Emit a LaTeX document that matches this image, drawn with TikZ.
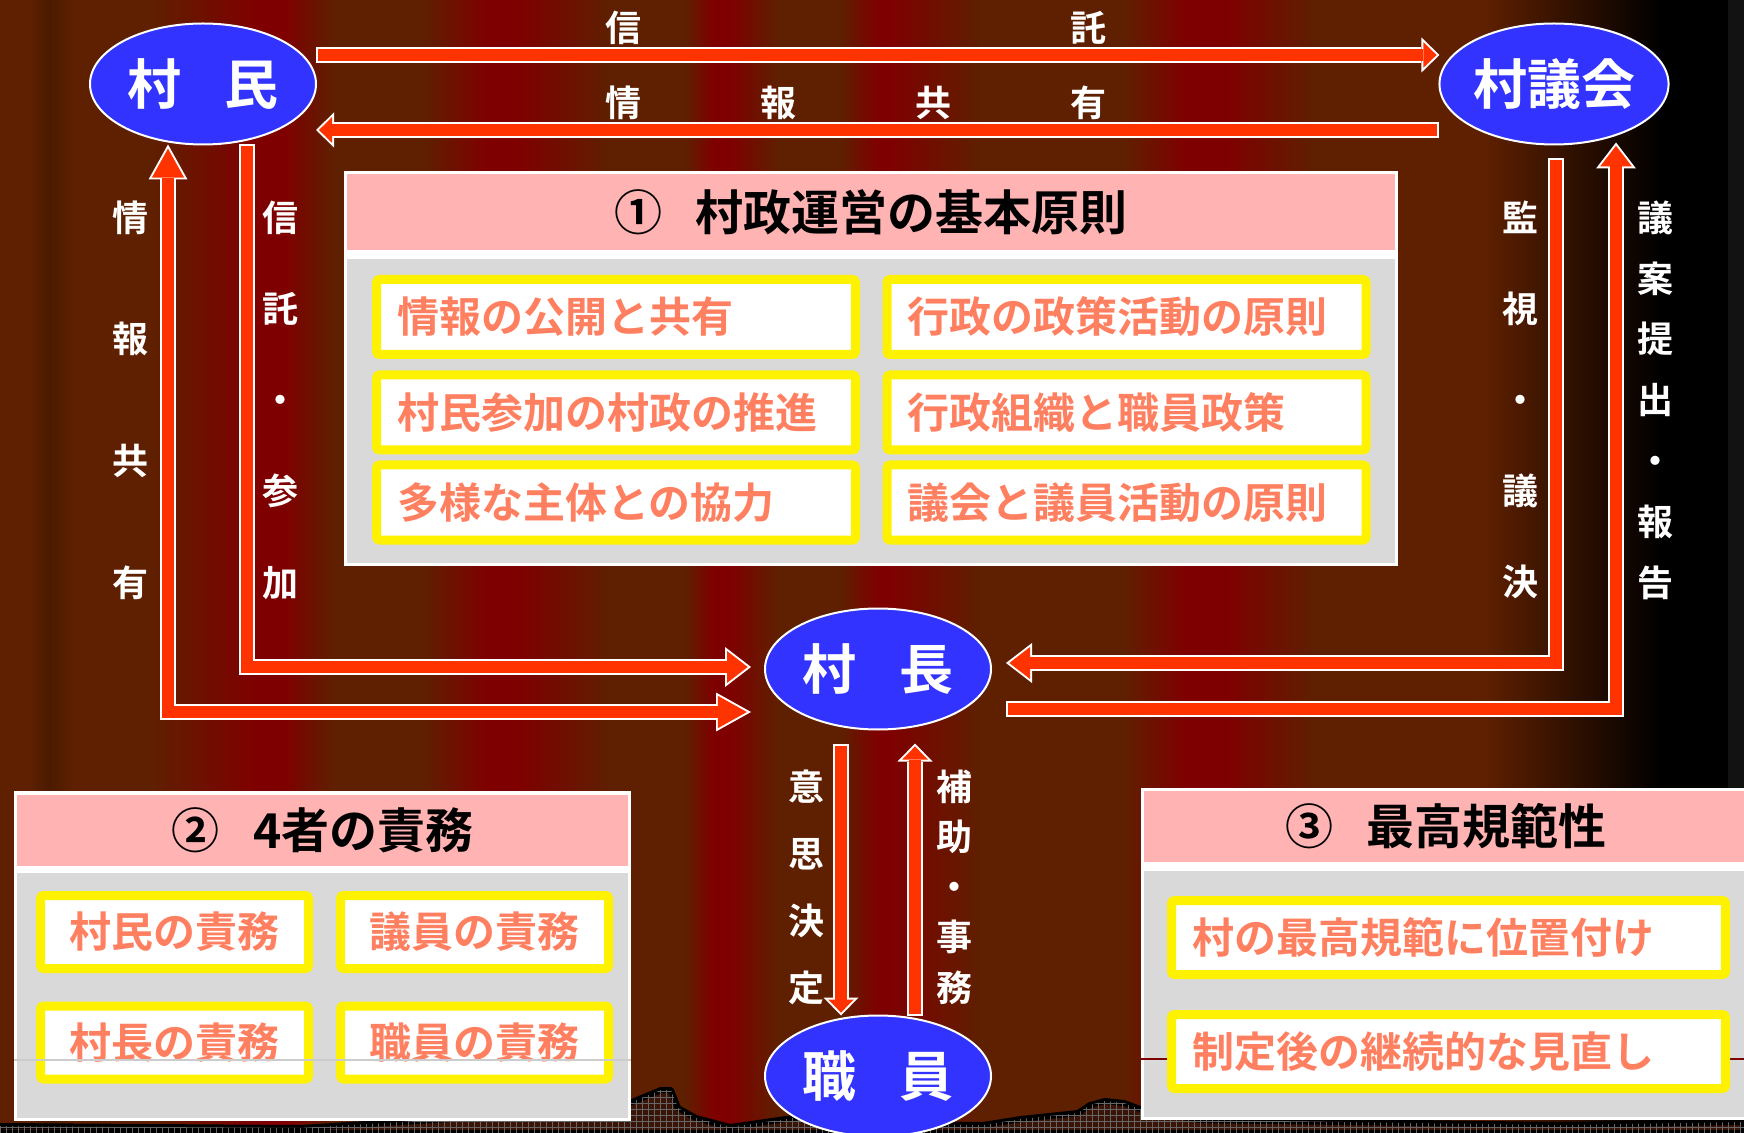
\documentclass[tikz,border=0pt]{standalone}
\usepackage{fontspec}
\setmainfont{Noto Sans CJK JP}[BoldFont={* Bold}]
\usetikzlibrary{shapes.geometric,arrows.meta,patterns}

\definecolor{curtain}{HTML}{5E2000}
\definecolor{curtainred}{HTML}{7F0000}
\definecolor{curtaindark}{HTML}{4A1A00}
\definecolor{arrowred}{HTML}{FF3300}
\definecolor{ellblue}{HTML}{3333FF}
\definecolor{headpink}{HTML}{FFB3B3}
\definecolor{bodygrey}{HTML}{D9D9D9}
\definecolor{itemtext}{HTML}{FF8060}
\definecolor{ridge}{HTML}{3A1406}

\tikzset{
  actor/.style={shape=ellipse, draw=white, line width=1pt, fill=ellblue, text=white, inner sep=0pt, outer sep=0pt, minimum width=113pt, minimum height=60.5pt, font=\fontsize{27}{27}\selectfont\bfseries},
  panel/.style={fill=white, inner sep=0pt, outer sep=0pt},
  panelhead/.style={fill=headpink, inner sep=0pt, outer sep=0pt, font=\fontsize{24}{24}\selectfont\bfseries},
  panelbody/.style={fill=bodygrey, inner sep=0pt, outer sep=0pt},
  item/.style={draw=yellow, line width=4.5pt, fill=white, rounded corners=1.5pt, inner ysep=0pt, inner xsep=0pt, minimum height=37.5pt, text=itemtext, font=\fontsize{21}{21}\selectfont\bfseries},
  itemleft/.style={item, align=left, text width=#1, inner xsep=10.25pt},
  vlabel/.style={text=white, inner sep=0pt, align=center, font=\fontsize{18}{#1}\selectfont\bfseries},
  rim/.style={draw=white, line width=8pt, line join=miter},
  flow/.style={draw=arrowred, line width=6pt, line join=miter},
  shortW/.tip={Triangle[length=9pt,width=17.5pt,line width=0pt]},
  shortR/.tip={Triangle[length=6.55pt,width=12.75pt,line width=0pt]},
  midW/.tip={Triangle[length=13pt,width=20pt,line width=0pt]},
  midR/.tip={Triangle[length=10.36pt,width=15.95pt,line width=0pt]},
  longW/.tip={Triangle[length=17.5pt,width=19.5pt,line width=0pt]},
  longR/.tip={Triangle[length=14.45pt,width=16.1pt,line width=0pt]}
}

\begin{document}
\begin{tikzpicture}[x=0.5pt,y=-0.5pt]
\useasboundingbox (0,0) rectangle (1744,1133);
\clip (0,0) rectangle (1744,1133);

\fill[curtain] (0,0) rectangle (1744,1133);
\shade[left color=curtain,right color=curtaindark] (30,0) rectangle (50,1133);
\shade[left color=curtaindark,right color=curtain] (50,0) rectangle (72,1133);
\shade[left color=curtain,right color=curtainred] (150,0) rectangle (256,1133);
\fill[curtainred] (256,0) rectangle (284,1133);
\shade[left color=curtainred,right color=curtain] (284,0) rectangle (334,1133);
\shade[left color=curtain,right color=curtainred] (423,0) rectangle (487,1133);
\fill[curtainred] (487,0) rectangle (517,1133);
\shade[left color=curtainred,right color=curtain] (517,0) rectangle (612,1133);
\shade[left color=curtain,right color=curtainred] (684,0) rectangle (715,1133);
\fill[curtainred] (715,0) rectangle (729,1133);
\shade[left color=curtainred,right color=curtain] (729,0) rectangle (779,1133);
\shade[left color=curtain,right color=curtainred] (840,0) rectangle (878,1133);
\fill[curtainred] (878,0) rectangle (888,1133);
\shade[left color=curtainred,right color=curtain] (888,0) rectangle (983,1133);
\shade[left color=curtain,right color=curtainred] (1122,0) rectangle (1186,1133);
\fill[curtainred] (1186,0) rectangle (1225,1133);
\shade[left color=curtainred,right color=curtain] (1225,0) rectangle (1317,1133);
\shade[left color=curtain,right color=black] (1484,0) rectangle (1662,1133);
\fill[black] (1662,0) rectangle (1728,1133);
\fill[black!93] (1728,0) rectangle (1744,1133);

\filldraw[fill=ridge, draw=black, line width=3pt, line join=round, postaction={pattern=grid, pattern color=black!60}] (0,1133) -- (0,1126) -- (300,1128) -- (600,1110) -- (632,1102) -- (661,1090) -- (671,1090) -- (678,1108) -- (696,1118) -- (730,1127) -- (765,1122) -- (800,1117) -- (900,1124) -- (983,1125) -- (1021,1119) -- (1078,1113) -- (1090,1105) -- (1105,1101) -- (1124,1103) -- (1143,1110) -- (1200,1120) -- (1560,1125) -- (1744,1122) -- (1744,1133) -- cycle;

\node[panel, minimum width=527pt, minimum height=197.5pt] (panelA) at (871,368.5) {};
\node[panelhead, minimum width=524pt, minimum height=38pt] (headA) at (871,212) {①\hspace{0.7em}村政運営の基本原則};
\node[panelbody, minimum width=524pt, minimum height=152pt] (bodyA) at (871,411) {};
\node[itemleft=219pt] (itemA1) at (616,317) {情報の公開と共有};
\node[itemleft=219pt] (itemA2) at (616,412.5) {村民参加の村政の推進};
\node[itemleft=219pt] (itemA3) at (616,502.5) {多様な主体との協力};
\node[itemleft=219pt] (itemA4) at (1126.5,317) {行政の政策活動の原則};
\node[itemleft=219pt] (itemA5) at (1126.5,412.5) {行政組織と職員政策};
\node[itemleft=219pt] (itemA6) at (1126.5,502.5) {議会と議員活動の原則};

\node[panel, minimum width=308.5pt, minimum height=165pt] (panelB) at (322.5,956) {};
\node[panelhead, minimum width=305.5pt, minimum height=35.5pt] (headB) at (322.5,830) {②\hspace{0.7em}4者の責務};
\node[panelbody, minimum width=305.5pt, minimum height=122.5pt] (bodyB) at (322.5,995.5) {};
\node[item, minimum width=134pt, minimum height=36.5pt] (itemB1) at (174.5,932) {村民の責務};
\node[item, minimum width=134pt, minimum height=36.5pt] (itemB2) at (474.5,932) {議員の責務};
\node[item, minimum width=134pt, minimum height=36.5pt] (itemB3) at (174.5,1042.5) {村長の責務};
\node[item, minimum width=134pt, minimum height=36.5pt] (itemB4) at (474.5,1042.5) {職員の責務};
\draw[black!20, line width=0.6pt] (panelB.west |- 0,1060) -- (panelB.east |- 0,1060);

\node[panel, minimum width=305pt, minimum height=166pt] (panelC) at (1446,954) {};
\node[panelhead, minimum width=302pt, minimum height=35.5pt] (headC) at (1446,826.5) {③\hspace{0.7em}最高規範性};
\node[panelbody, minimum width=302pt, minimum height=123pt] (bodyC) at (1446,994) {};
\draw[curtainred, line width=0.6pt] (panelC.west |- 0,1059) -- (panelC.east |- 0,1059);
\node[itemleft=256.5pt, minimum height=37pt] (itemC1) at (1448.5,937.5) {村の最高規範に位置付け};
\node[itemleft=256.5pt, minimum height=37pt] (itemC2) at (1448.5,1051.5) {制定後の継続的な見直し};

\node[actor] (sonmin) at (203,84) {村\hspace{0.8em}民};
\node[actor] (gikai) at (1554,84) {村議会};
\node[actor] (sonchou) at (878,669) {村\hspace{0.8em}長};
\node[actor] (shokuin) at (878,1076) {職\hspace{0.8em}員};

\draw[rim, -{shortW}] ([yshift=14.5pt]sonmin.east) -- ([yshift=14.5pt]gikai.west);
\draw[flow, -{shortR}, shorten <=1pt, shorten >=1.45pt] ([yshift=14.5pt]sonmin.east) -- ([yshift=14.5pt]gikai.west);
\draw[rim, -{shortW}] ([yshift=-23pt]gikai.west) -- ([yshift=-23pt]sonmin.east);
\draw[flow, -{shortR}, shorten <=1pt, shorten >=1.45pt] ([yshift=-23pt]gikai.west) -- ([yshift=-23pt]sonmin.east);

\draw[rim, {longW}-{longW}] ([xshift=-17.5pt]sonmin.south) |- ([xshift=-7pt,yshift=-21.5pt]sonchou.west);
\draw[flow, {longR}-{longR}, shorten <=2.06pt, shorten >=2.06pt] ([xshift=-17.5pt]sonmin.south) |- ([xshift=-7pt,yshift=-21.5pt]sonchou.west);
\draw[rim, -{midW}] ([xshift=22pt]sonmin.south) |- ([xshift=-7pt,yshift=1pt]sonchou.west);
\draw[flow, -{midR}, shorten <=1pt, shorten >=1.64pt] ([xshift=22pt]sonmin.south) |- ([xshift=-7pt,yshift=1pt]sonchou.west);

\draw[rim, -{midW}] ([xshift=1pt,yshift=-7pt]gikai.south) |- ([xshift=7.5pt,yshift=3pt]sonchou.east);
\draw[flow, -{midR}, shorten <=1pt, shorten >=1.64pt] ([xshift=1pt,yshift=-7pt]gikai.south) |- ([xshift=7.5pt,yshift=3pt]sonchou.east);
\draw[rim, -{midW}] ([xshift=7.5pt,yshift=-20pt]sonchou.east) -| ([xshift=31pt,yshift=1pt]gikai.south);
\draw[flow, -{midR}, shorten <=1pt, shorten >=1.64pt] ([xshift=7.5pt,yshift=-20pt]sonchou.east) -| ([xshift=31pt,yshift=1pt]gikai.south);

\draw[rim, -{shortW}] ([xshift=-18.5pt,yshift=-7pt]sonchou.south) -- ([xshift=-18.5pt]shokuin.north);
\draw[flow, -{shortR}, shorten <=1pt, shorten >=1.45pt] ([xshift=-18.5pt,yshift=-7pt]sonchou.south) -- ([xshift=-18.5pt]shokuin.north);
\draw[rim, -{shortW}] ([xshift=18.5pt]shokuin.north) -- ([xshift=18.5pt,yshift=-7pt]sonchou.south);
\draw[flow, -{shortR}, shorten <=1pt, shorten >=1.45pt] ([xshift=18.5pt]shokuin.north) -- ([xshift=18.5pt,yshift=-7pt]sonchou.south);

\node[vlabel=18] (labTrustTop) at (855.5,28) {信\hspace{214.5pt}託};
\node[vlabel=18] (labInfoTop) at (855.5,103) {情\hspace{59.5pt}報\hspace{59.5pt}共\hspace{59.5pt}有};
\node[vlabel=60.8] (labInfoLeft) at (130,400) {情\\報\\共\\有};
\node[vlabel=45.6] (labTrustLeft) at (280,400) {信\\託\\・\\参\\加};
\node[vlabel=45.6] (labWatch) at (1520,400) {監\\視\\・\\議\\決};
\node[vlabel=30.4] (labBill) at (1655,400) {議\\案\\提\\出\\・\\報\\告};
\node[vlabel=33.5] (labDecide) at (806,887) {意\\思\\決\\定};
\node[vlabel=25.1] (labAssist) at (954,887) {補\\助\\・\\事\\務};
\end{tikzpicture}
\end{document}
